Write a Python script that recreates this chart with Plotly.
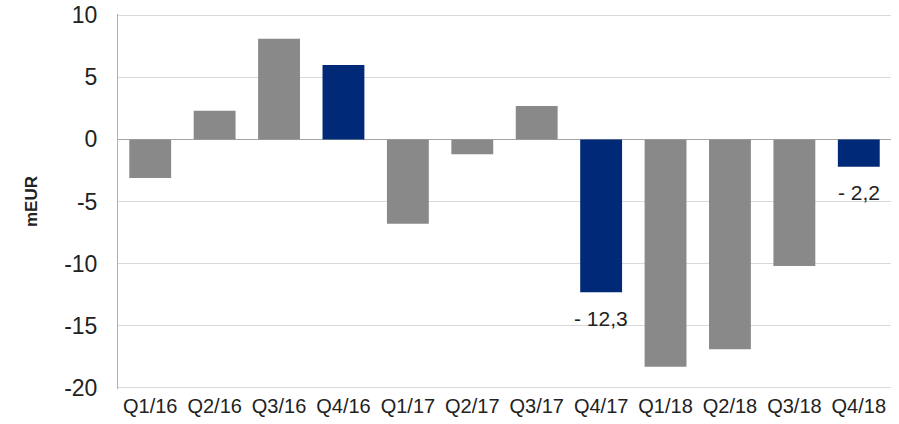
import plotly.graph_objects as go

categories = ["Q1/16", "Q2/16", "Q3/16", "Q4/16", "Q1/17", "Q2/17",
              "Q3/17", "Q4/17", "Q1/18", "Q2/18", "Q3/18", "Q4/18"]
values = [-3.1, 2.3, 8.1, 6.0, -6.8, -1.2, 2.7, -12.3, -18.3, -16.9, -10.2, -2.2]
highlight = [False, False, False, True, False, False, False, True, False, False, False, True]
label_text = {"Q4/17": "- 12,3", "Q4/18": "- 2,2"}
y_ticks = [10, 5, 0, -5, -10, -15, -20]

GRAY = "#898989"
NAVY = "#002A77"
colors = [NAVY if h else GRAY for h in highlight]

fig = go.Figure(go.Bar(
    x=categories, y=values,
    marker=dict(color=colors, line=dict(width=0)),
    width=0.65,
))

annotations = []
for c, v in zip(categories, values):
    if c in label_text:
        annotations.append(dict(
            x=c, y=v, text=label_text[c], showarrow=False,
            yanchor="middle", yshift=-26,
            font=dict(family="Liberation Sans, Arial", size=21, color="#222222"),
        ))

fig.update_layout(
    width=899, height=424,
    margin=dict(l=118, r=8, t=14, b=35),
    plot_bgcolor="white", paper_bgcolor="white",
    showlegend=False,
    font=dict(family="Liberation Sans, Arial", color="#222222"),
    annotations=annotations,
    xaxis=dict(
        showgrid=False, showline=False, ticks="", automargin=False,
        tickfont=dict(size=20), ticklabelstandoff=3,
    ),
    yaxis=dict(
        range=[-20.1, 10.1], tickvals=y_ticks, ticktext=[str(t) for t in y_ticks],
        showgrid=True, gridcolor="#D9D9D9", gridwidth=1, automargin=False,
        showline=True, linecolor="#B0B0B0", linewidth=1,
        zeroline=True, zerolinecolor="#A6A6A6", zerolinewidth=1,
        tickfont=dict(size=23), ticks="", ticklabelstandoff=15,
        title=dict(text="<b>mEUR</b>", font=dict(size=17), standoff=22),
    ),
)

fig.write_html("out.html", config={"displayModeBar": False},
               post_script="document.body.style.margin='0';")
